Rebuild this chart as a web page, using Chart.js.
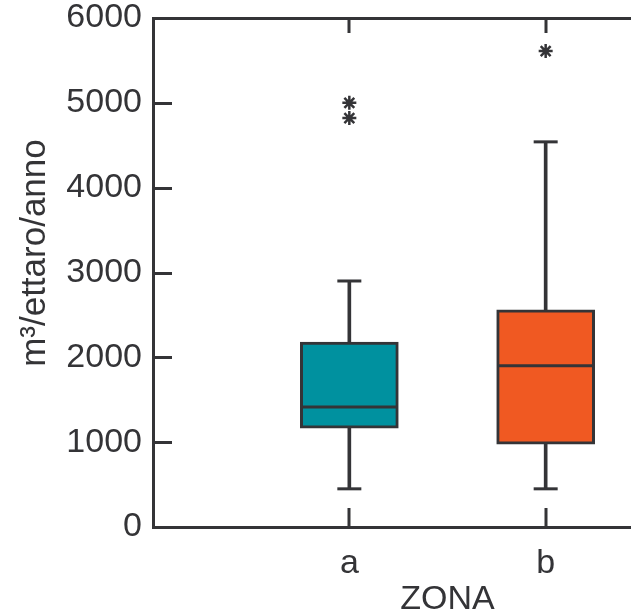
<!DOCTYPE html>
<html>
<head>
<meta charset="utf-8">
<script src="https://cdn.jsdelivr.net/npm/chart.js@4.4.1/dist/chart.umd.min.js"></script>
<style>
  html, body { margin: 0; padding: 0; background: #fff; overflow: hidden; }
  #wrap { width: 631px; height: 613px; overflow: hidden; }
</style>
</head>
<body>
<div id="wrap"><canvas id="boxChart" width="742" height="613"></canvas></div>
<script>
// data
const zones = ['a', 'b'];
const whiskerLow = [450, 450];
const q1 = [1165, 975];
const median = [1415, 1900];
const q3 = [2180, 2560];
const whiskerHigh = [2900, 4540];
const outliers = [[5000, 4820], [5610]];
const yTicks = [0, 1000, 2000, 3000, 4000, 5000, 6000];

const ink = '#343437';
const fills = ['#00919f', '#f05922'];
const font = 'Liberation Sans, Arial, Helvetica, sans-serif';

// padded so the categories sit at 1 and 2 on a 0..3 axis (right part is cropped)
const labels = ['', ...zones, ''];

const boxData = zones.map((z, i) => ({ x: z, y: [q1[i], q3[i]] }));
const lowWhisker = zones.map((z, i) => ({ x: z, y: [whiskerLow[i], q1[i]] }));
const highWhisker = zones.map((z, i) => ({ x: z, y: [q3[i], whiskerHigh[i]] }));
const caps = zones.flatMap((z, i) => [{ x: z, y: whiskerLow[i] }, { x: z, y: whiskerHigh[i] }]);
const medians = zones.map((z, i) => ({ x: z, y: median[i] }));
const outlierPts = zones.flatMap((z, i) => outliers[i].map(v => ({ x: z, y: v })));

// tick marks drawn inward from the axes
const innerTicks = {
  id: 'innerTicks',
  afterDraw(chart) {
    const { ctx, chartArea, scales } = chart;
    ctx.save();
    ctx.strokeStyle = ink;
    ctx.lineWidth = 3;
    ctx.beginPath();
    yTicks.slice(1, -1).forEach(v => {
      const y = Math.round(scales.y.getPixelForValue(v)) + 0.5;
      ctx.moveTo(chartArea.left, y);
      ctx.lineTo(chartArea.left + 19, y);
    });
    zones.forEach(z => {
      const x = Math.round(scales.x.getPixelForValue(labels.indexOf(z)));
      ctx.moveTo(x, chartArea.top);
      ctx.lineTo(x, chartArea.top + 15);
      ctx.moveTo(x, chartArea.bottom);
      ctx.lineTo(x, chartArea.bottom - 19);
    });
    ctx.stroke();
    ctx.restore();
  }
};

new Chart(document.getElementById('boxChart'), {
  type: 'bar',
  data: {
    labels: labels,
    datasets: [
      {
        data: boxData,
        backgroundColor: fills,
        borderColor: ink,
        borderWidth: 3,
        borderSkipped: false,
        barThickness: 98,
        grouped: false,
        order: 1
      },
      {
        data: lowWhisker,
        backgroundColor: ink,
        borderWidth: 0,
        barThickness: 3,
        grouped: false,
        order: 2
      },
      {
        data: highWhisker,
        backgroundColor: ink,
        borderWidth: 0,
        barThickness: 3,
        grouped: false,
        order: 2
      },
      {
        type: 'line',
        data: caps,
        showLine: false,
        pointStyle: 'line',
        pointRadius: 12,
        pointBorderWidth: 3,
        pointBorderColor: ink,
        order: 0
      },
      {
        type: 'line',
        data: medians,
        showLine: false,
        pointStyle: 'line',
        pointRadius: 47,
        pointBorderWidth: 3,
        pointBorderColor: ink,
        order: 0
      },
      {
        type: 'line',
        data: outlierPts,
        showLine: false,
        pointStyle: 'star',
        pointRadius: 7,
        pointBorderWidth: 2.5,
        pointBorderColor: ink,
        order: 0
      }
    ]
  },
  options: {
    responsive: false,
    animation: false,
    layout: { autoPadding: false, padding: { top: 18, right: 0, left: 0, bottom: 0 } },
    plugins: {
      legend: { display: false },
      tooltip: { enabled: false }
    },
    scales: {
      x: {
        offset: false,
        grid: { display: false, offset: false },
        border: { display: true, color: ink, width: 3 },
        ticks: {
          color: ink,
          font: { family: font, size: 34 },
          padding: 8,
          maxRotation: 0,
          autoSkip: false
        },
        title: {
          display: true,
          text: 'ZONA',
          color: ink,
          font: { family: font, size: 34, lineHeight: 1 },
          padding: { top: 0, bottom: -4 }
        },
        afterFit(scale) {
          scale.height = 86;
          scale.paddingLeft = 0;
          scale.paddingRight = 0;
        }
      },
      y: {
        min: 0,
        max: 6000,
        afterBuildTicks(scale) { scale.ticks = yTicks.map(v => ({ value: v })); },
        grid: {
          drawTicks: false,
          lineWidth: 3,
          color: c => (c.tick && c.tick.value === 6000 ? ink : 'transparent')
        },
        border: { display: true, color: ink, width: 3 },
        ticks: {
          color: ink,
          font: { family: font, size: 34 },
          padding: 11,
          callback: v => String(v)
        },
        title: {
          display: true,
          text: '    m³/ettaro/anno',
          color: ink,
          font: { family: font, size: 35, lineHeight: 1 },
          padding: { top: 18, bottom: 0 }
        },
        afterFit(scale) {
          scale.width = 153;
          scale.paddingTop = 0;
          scale.paddingBottom = 0;
        }
      }
    }
  },
  plugins: [innerTicks]
});
</script>
</body>
</html>
